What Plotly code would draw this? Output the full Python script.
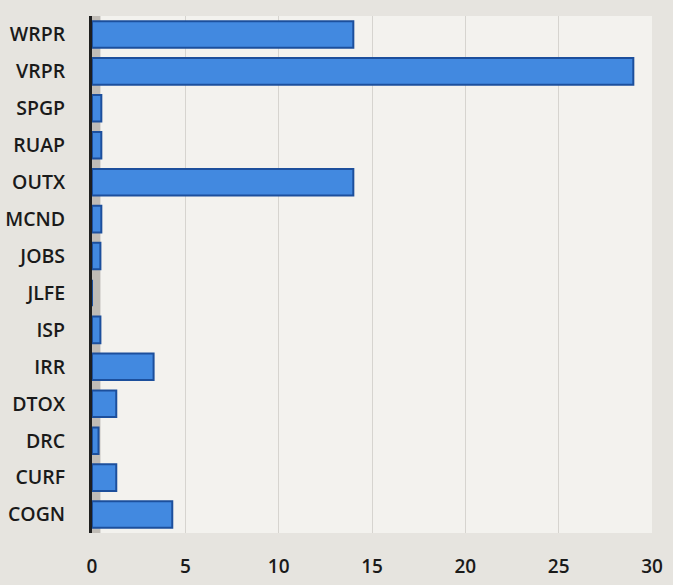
import plotly.graph_objects as go

# Categories listed top to bottom as they appear on the chart
categories = ["WRPR", "VRPR", "SPGP", "RUAP", "OUTX", "MCND", "JOBS",
              "JLFE", "ISP", "IRR", "DTOX", "DRC", "CURF", "COGN"]
values = [14, 29, 0.5, 0.5, 14, 0.5, 0.45, 0, 0.45, 3.3, 1.3, 0.35, 1.3, 4.3]
x_ticks = [0, 5, 10, 15, 20, 25, 30]

fig = go.Figure()

fig.add_trace(go.Bar(
    x=values,
    y=categories,
    orientation="h",
    marker=dict(color="#4289e0", line=dict(color="#1c4f9c", width=2)),
    width=0.72,
))

# Shaded side wall next to the value axis
fig.add_shape(type="rect", xref="x", yref="paper", x0=0, x1=0.45, y0=0, y1=1,
              fillcolor="#a9a59e", opacity=0.7, line_width=0, layer="below")

fig.update_layout(
    width=673, height=585,
    margin=dict(l=92, r=21, t=16, b=52),
    paper_bgcolor="#e6e4df",
    plot_bgcolor="#f3f2ee",
    showlegend=False,
    font=dict(family="Open Sans", size=19, color="#1a1a1a"),
    xaxis=dict(
        range=[0, 30],
        tickvals=x_ticks,
        showgrid=True, gridcolor="#d6d4cf", gridwidth=1,
        zeroline=False, showline=False,
        ticks="", ticklabelstandoff=20,
        tickfont=dict(size=19, weight=600),
        automargin=False,
        fixedrange=True,
    ),
    yaxis=dict(
        autorange="reversed",
        showgrid=False, zeroline=False,
        showline=True, linecolor="#1e1e1e", linewidth=3,
        ticks="", ticklabelstandoff=20,
        tickfont=dict(size=19.5, weight=600),
        automargin=False,
    ),
)

fig.write_html("out.html")
